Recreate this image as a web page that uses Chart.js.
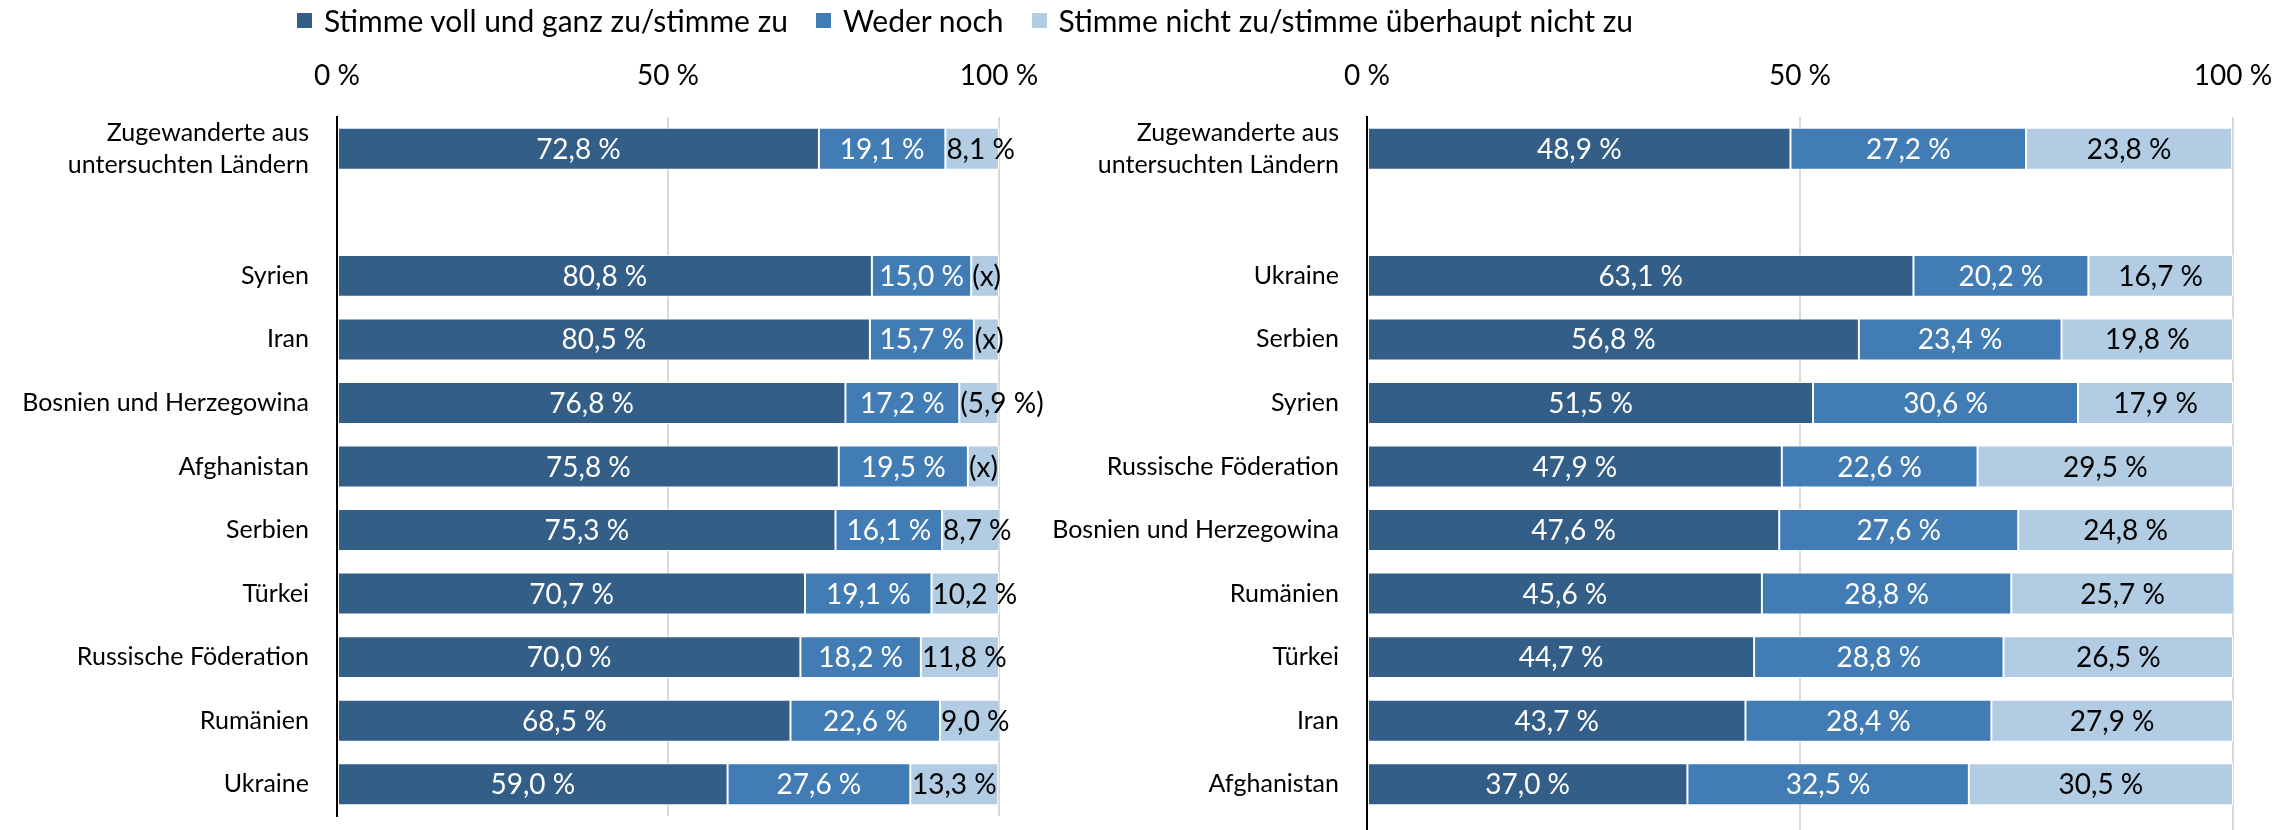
<!DOCTYPE html>
<html>
<head>
<meta charset="utf-8">
<script src="https://cdn.jsdelivr.net/npm/chart.js@4"></script>
<style>
  body { margin: 0; background: #fff; }
  #wrap { position: relative; width: 2291px; height: 830px; overflow: hidden; font-family: Lato, "Open Sans", sans-serif; }
  #legend { position: absolute; top: 2px; left: 297px; display: flex; gap: 28px; font-size: 30px; color: #000; z-index: 2; }
  #legend span.item { display: flex; align-items: center; white-space: nowrap; }
  #legend span.box { display: inline-block; width: 15px; height: 15px; margin-right: 12px; }
  canvas { position: absolute; top: 0; }
</style>
</head>
<body>
<div id="wrap">
  <div id="legend"></div>
  <canvas id="chartLeft" width="1070" height="830" style="left:0"></canvas>
  <canvas id="chartRight" width="1251" height="830" style="left:1040px"></canvas>
</div>
<script>
// series names and colours
var seriesNames = ['Stimme voll und ganz zu/stimme zu', 'Weder noch', 'Stimme nicht zu/stimme überhaupt nicht zu'];
var seriesColors = ['#325E88', '#417CB5', '#B1CCE3'];
var labelColors = ['#fff', '#fff', '#000'];

var xTicks = [0, 50, 100];

// left chart
var leftCats = [['Zugewanderte aus', 'untersuchten Ländern'], '', 'Syrien', 'Iran', 'Bosnien und Herzegowina', 'Afghanistan', 'Serbien', 'Türkei', 'Russische Föderation', 'Rumänien', 'Ukraine'];
var leftAgree    = [72.8, null, 80.8, 80.5, 76.8, 75.8, 75.3, 70.7, 70.0, 68.5, 59.0];
var leftNeutral  = [19.1, null, 15.0, 15.7, 17.2, 19.5, 16.1, 19.1, 18.2, 22.6, 27.6];
var leftDisagree = [8.1, null, 4.2, 3.8, 5.9, 4.7, 8.7, 10.2, 11.8, 9.0, 13.3];
// 'x' = value suppressed, 'p' = value in brackets (low case numbers)
var leftDisagreeNote = [null, null, 'x', 'x', 'p', 'x', null, null, null, null, null];

// right chart
var rightCats = [['Zugewanderte aus', 'untersuchten Ländern'], '', 'Ukraine', 'Serbien', 'Syrien', 'Russische Föderation', 'Bosnien und Herzegowina', 'Rumänien', 'Türkei', 'Iran', 'Afghanistan'];
var rightAgree    = [48.9, null, 63.1, 56.8, 51.5, 47.9, 47.6, 45.6, 44.7, 43.7, 37.0];
var rightNeutral  = [27.2, null, 20.2, 23.4, 30.6, 22.6, 27.6, 28.8, 28.8, 28.4, 32.5];
var rightDisagree = [23.8, null, 16.7, 19.8, 17.9, 29.5, 24.8, 25.7, 26.5, 27.9, 30.5];

var FONT = 'Lato, "Open Sans", sans-serif';

// legend
var legendEl = document.getElementById('legend');
seriesNames.forEach(function (name, i) {
  legendEl.innerHTML += '<span class="item"><span class="box" style="background:' + seriesColors[i] + '"></span>' + name + '</span>';
});

function pct(v) {
  return v.toFixed(1).replace('.', ',') + ' %';
}

// draws the value in each bar segment
var segLabels = {
  id: 'segLabels',
  afterDatasetsDraw: function (chart) {
    var ctx = chart.ctx;
    ctx.save();
    ctx.font = '28px ' + FONT;
    ctx.textBaseline = 'middle';
    ctx.textAlign = 'center';
    chart.data.datasets.forEach(function (ds, di) {
      var meta = chart.getDatasetMeta(di);
      meta.data.forEach(function (bar, i) {
        var v = ds.data[i];
        if (v == null) return;
        var text = pct(v);
        var note = ds.notes ? ds.notes[i] : null;
        if (note === 'x') text = '(x)';
        if (note === 'p') text = '(' + text + ')';
        var tw = ctx.measureText(text).width;
        var cx = (bar.x + bar.base) / 2;
        cx = Math.max(cx, bar.base + tw / 2 + 1);
        ctx.fillStyle = labelColors[di];
        ctx.fillText(text, cx, bar.y + 1);
      });
    });
    ctx.restore();
  }
};

// right panel: axis and grid lines run on to the bottom edge
var runOn = {
  id: 'runOn',
  beforeDatasetsDraw: function (chart) {
    if (!chart.options.plugins.runOn) return;
    var ctx = chart.ctx, area = chart.chartArea, xs = chart.scales.x;
    ctx.save();
    xTicks.forEach(function (v) {
      var px = xs.getPixelForValue(v);
      ctx.beginPath();
      ctx.strokeStyle = v === 0 ? '#000' : '#d9d9d9';
      ctx.lineWidth = 2;
      ctx.moveTo(px, area.bottom - 1);
      ctx.lineTo(px, chart.height);
      ctx.stroke();
    });
    ctx.restore();
  }
};

function noPad(s) {
  s.paddingTop = 0;
  s.paddingBottom = 0;
  s.paddingLeft = 0;
  s.paddingRight = 0;
}

function makeChart(id, cats, a, n, d, notes, axisWidth, padRight, runOnOpt) {
  var vals = [a, n, d];
  var datasets = vals.map(function (data, i) {
    return {
      label: seriesNames[i],
      data: data,
      notes: i === 2 ? notes : null,
      backgroundColor: seriesColors[i],
      borderColor: '#fff',
      borderWidth: 1,
      borderSkipped: false,
      categoryPercentage: 1,
      barPercentage: 0.66
    };
  });
  return new Chart(document.getElementById(id), {
    type: 'bar',
    data: { labels: cats, datasets: datasets },
    plugins: [segLabels, runOn],
    options: {
      responsive: false,
      animation: false,
      devicePixelRatio: 1,
      indexAxis: 'y',
      layout: { padding: { left: 0, right: padRight, top: 0, bottom: 14 } },
      plugins: { legend: { display: false }, tooltip: { enabled: false }, runOn: runOnOpt },
      scales: {
        x: {
          stacked: true,
          position: 'top',
          min: 0,
          max: 100,
          afterBuildTicks: function (s) { s.ticks = xTicks.map(function (v) { return { value: v }; }); },
          ticks: { callback: function (v) { return v + ' %'; }, color: '#000', font: { family: FONT, size: 28 }, padding: 24, maxRotation: 0, autoSkip: false },
          grid: {
            drawTicks: false,
            lineWidth: 2,
            color: function (c) { return c.tick && c.tick.value === 0 ? 'rgba(0,0,0,0)' : '#d9d9d9'; }
          },
          border: { display: false },
          afterFit: function (s) { s.height = 117; noPad(s); }
        },
        y: {
          stacked: true,
          ticks: { color: '#000', font: { family: FONT, size: 25, lineHeight: 1.3 }, padding: 28, autoSkip: false },
          grid: { display: false, drawTicks: false },
          border: { display: true, color: '#000', width: 2 },
          afterFit: function (s) { s.width = axisWidth; noPad(s); }
        }
      }
    }
  });
}

makeChart('chartLeft', leftCats, leftAgree, leftNeutral, leftDisagree, leftDisagreeNote, 337, 71, false);
makeChart('chartRight', rightCats, rightAgree, rightNeutral, rightDisagree, null, 327, 58, true);
</script>
</body>
</html>
